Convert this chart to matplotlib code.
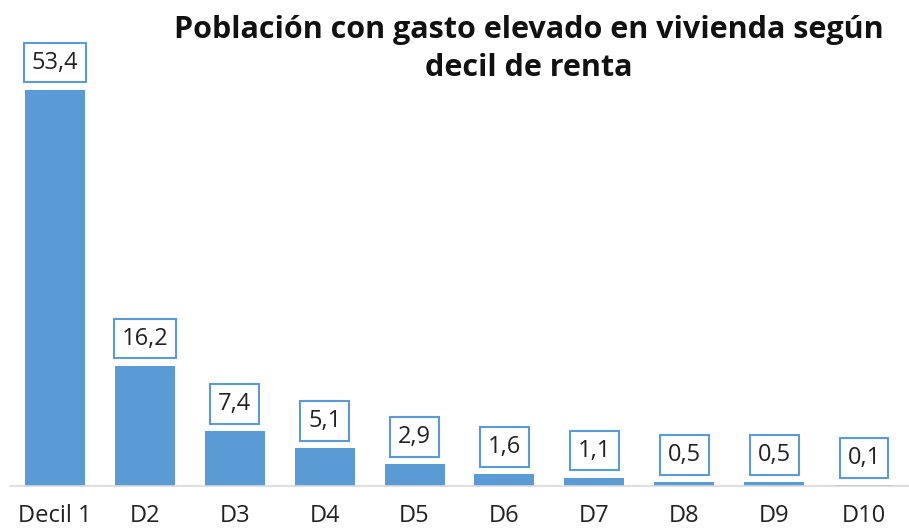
import matplotlib
matplotlib.use("Agg")
import matplotlib.pyplot as plt

categories = ["Decil 1", "D2", "D3", "D4", "D5", "D6", "D7", "D8", "D9", "D10"]
values = [53.4, 16.2, 7.4, 5.1, 2.9, 1.6, 1.1, 0.5, 0.5, 0.1]
title = "Población con gasto elevado en vivienda según\ndecil de renta"

plt.rcParams['font.family'] = ['Open Sans', 'DejaVu Sans']
color = "#5B9BD5"

fig = plt.figure(figsize=(9.09, 5.30), dpi=100)
ax = fig.add_axes([0.011, 0.083, 0.989, 0.84])
x = list(range(len(categories)))
ax.bar(x, values, width=0.667, color=color, zorder=2)
ax.set_xlim(-0.5, len(categories) - 0.5)
ax.set_ylim(0, 60)
for s in ["top", "right", "left"]:
    ax.spines[s].set_visible(False)
ax.spines["bottom"].set_color("#D9D9D9")
ax.spines["bottom"].set_linewidth(1.2)
ax.set_yticks([])
ax.set_xticks(x)
ax.set_xticklabels(categories, fontsize=17, color="#222222")
ax.tick_params(axis="x", length=0, pad=13)

for xi, v in zip(x, values):
    ax.annotate(f"{v:.1f}".replace(".", ","), (xi, v), xytext=(0, 11),
                textcoords="offset points", ha="center", va="bottom",
                fontsize=17, color="#222222",
                bbox=dict(boxstyle="square,pad=0.33", fc="white", ec=color, lw=1.5))

fig.text(0.582, 0.972, title, ha="center", va="top", fontsize=22,
         fontweight="bold", color="#111111", linespacing=1.35)

fig.savefig("out.png", dpi=100)
